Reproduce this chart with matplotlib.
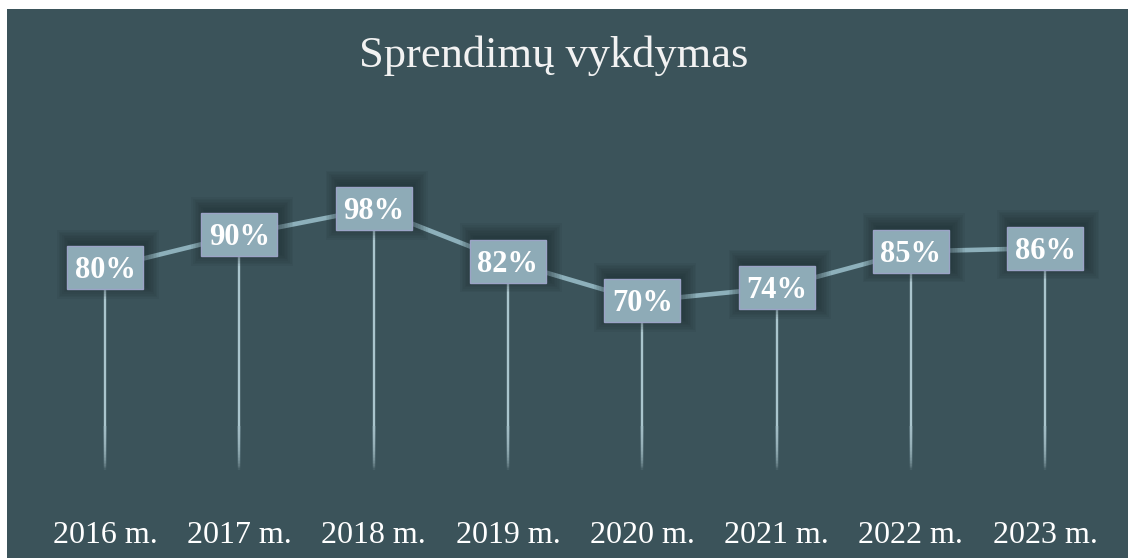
import numpy as np
import matplotlib
matplotlib.use('Agg')
import matplotlib.pyplot as plt
import matplotlib.transforms as mtransforms
from matplotlib.patches import Rectangle
from matplotlib.collections import LineCollection
from matplotlib import rcParams

rcParams.update({
    "font.family": ['Liberation Serif', 'DejaVu Serif'],
})

# data
years = ['2016 m.', '2017 m.', '2018 m.', '2019 m.', '2020 m.', '2021 m.', '2022 m.', '2023 m.']
values = [80, 90, 98, 82, 70, 74, 85, 86]
title = 'Sprendimų vykdymas'

bg_col = '#3b535a'
line_col = '#8db0bb'
drop_col = '#aac5cd'
box_face = '#8eabb7'
box_edge = '#9ba3c6'

W, H, DPI = 1128, 558, 100
fig = plt.figure(figsize=(W / DPI, H / DPI), dpi=DPI, facecolor='white')
# dark panel with a thin white margin top/left
fig.patches.append(Rectangle((7 / W, 0), 1 - 7 / W, 1 - 9 / H, transform=fig.transFigure,
                             facecolor=bg_col, edgecolor='none', zorder=-10))

ax = fig.add_axes([0, 0, 1, 1])
ax.set_facecolor('none')
ax.set_xlim(-0.782, 7.617)
ax.set_ylim(-7.9, 161.2)
ax.axis('off')

x = np.arange(len(values))
base_val = 18.8   # where drop lines end
fade_val = 32.0   # where fading starts

# drop lines: solid part, then stacked translucent segments for the fade
n_fade = 30
for xi, v in zip(x, values):
    ax.plot([xi, xi], [v, fade_val], color=drop_col, lw=1.7, zorder=2, solid_capstyle='butt')
    ends = np.linspace(fade_val, base_val, n_fade + 1)[1:]
    segs = [[(xi, fade_val), (xi, e)] for e in ends]
    ax.add_collection(LineCollection(segs, colors=drop_col, alpha=0.1, linewidths=1.7,
                                     capstyle='butt', zorder=2))

# connecting line
ax.plot(x, values, color=line_col, lw=3.3, zorder=3, solid_capstyle='round')

# value boxes with soft shadow
bw, bh = 0.76, 0.43  # inches
for xi, v in zip(x, values):
    tr = fig.dpi_scale_trans + mtransforms.ScaledTranslation(xi, v, ax.transData)
    for grow in np.linspace(0.13, 0.0, 9):
        ax.add_patch(Rectangle((-bw / 2 - grow + 0.03, -bh / 2 - grow + 0.035),
                               bw + 2 * grow, bh + 2 * grow, transform=tr,
                               facecolor='#1a272b', edgecolor='none', alpha=0.07, zorder=4))
    ax.add_patch(Rectangle((-bw / 2, -bh / 2), bw, bh, transform=tr,
                           facecolor=box_face, edgecolor=box_edge, lw=1.0, zorder=5))
    ttr = mtransforms.offset_copy(ax.transData, fig=fig, x=0, y=-10.5, units='dots')
    ax.text(xi, v, f'{v}%', transform=ttr, ha='center', va='baseline',
            fontsize=22, fontweight='bold', color='white', zorder=6)

# year labels
for xi, lab in zip(x, years):
    ax.annotate(lab, xy=(xi, 0), xycoords=('data', 'figure fraction'),
                xytext=(0, (H - 543) * 72 / DPI), textcoords='offset points',
                ha='center', va='baseline', fontsize=23, color='white', zorder=6)

fig.text(554 / W, 1 - 67 / H, title, ha='center', va='baseline', fontsize=32,
         color='#f2f2f2')

fig.savefig('out.png', dpi=DPI, facecolor='white')
